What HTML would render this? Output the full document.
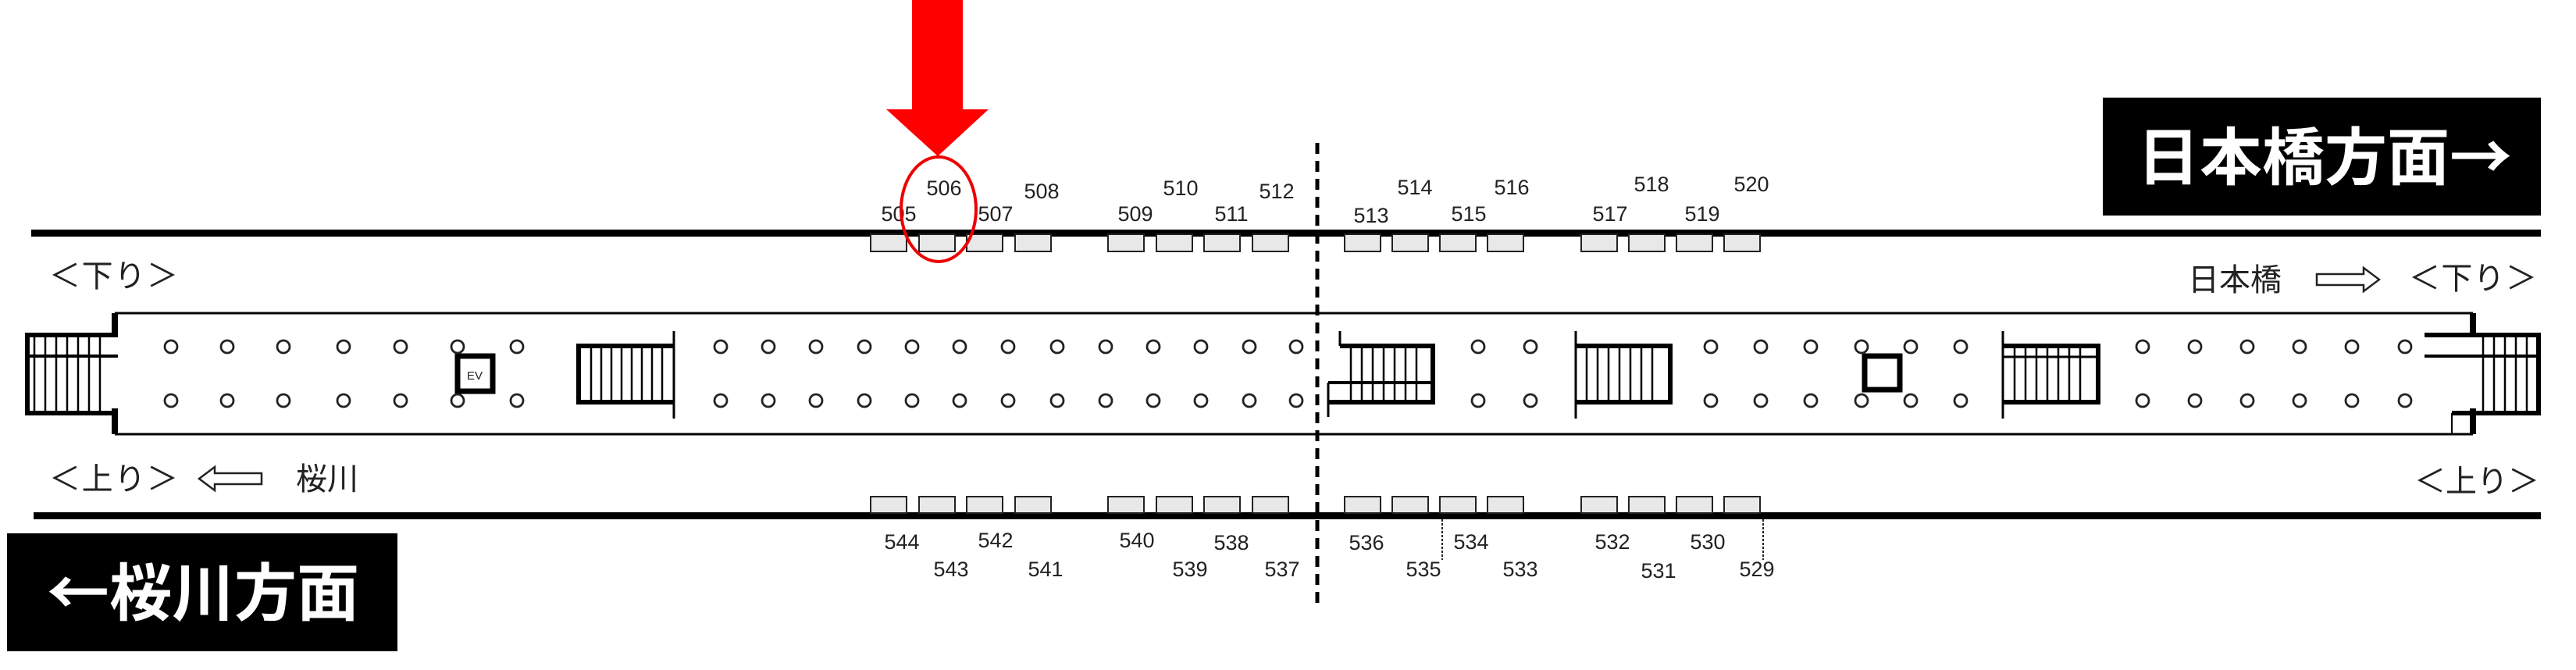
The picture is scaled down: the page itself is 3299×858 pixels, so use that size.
<!DOCTYPE html>
<html><head><meta charset="utf-8"><style>
html,body{margin:0;padding:0;background:#fff;}
svg{display:block;}
.n{font-family:"Liberation Sans Narrow","Liberation Sans",sans-serif;font-size:27px;fill:#222;text-anchor:middle;}
.j{font-family:"Noto Sans CJK JP","Liberation Sans",sans-serif;font-size:40px;fill:#222;}
.b{font-family:"Noto Sans CJK JP","Liberation Sans",sans-serif;font-size:80px;fill:#fff;font-weight:bold;}
</style></head><body>
<svg width="3299" height="858" viewBox="0 0 3299 858" xmlns="http://www.w3.org/2000/svg">
<rect x="40" y="294" width="3214" height="9" fill="#000"/>
<rect x="43" y="656" width="3211" height="9" fill="#000"/>
<rect x="2693" y="125" width="561" height="151" fill="#000"/>
<text class="b" x="2737" y="230" textLength="480">日本橋方面→</text>
<rect x="9" y="683" width="500" height="151" fill="#000"/>
<text class="b" x="60" y="788" textLength="400">←桜川方面</text>
<g fill="none" stroke="#000">
<line x1="147" y1="401" x2="3167" y2="401" stroke-width="3"/>
<line x1="147" y1="556" x2="3167" y2="556" stroke-width="3"/>
<line x1="147" y1="401" x2="147" y2="432" stroke-width="8"/>
<line x1="147" y1="523" x2="147" y2="556" stroke-width="8"/>
<line x1="3167" y1="401" x2="3167" y2="432" stroke-width="8"/>
<line x1="3167" y1="523" x2="3167" y2="556" stroke-width="8"/>
</g>
<g stroke="#000" fill="none">
<path d="M151 429 H35 V529 H151" stroke-width="6"/>
<line x1="32" y1="456" x2="151" y2="456" stroke-width="4"/>
<g stroke-width="2.5"><line x1="44" y1="432" x2="44" y2="526"/><line x1="58" y1="432" x2="58" y2="526"/><line x1="72" y1="432" x2="72" y2="526"/><line x1="86" y1="432" x2="86" y2="526"/><line x1="100" y1="432" x2="100" y2="526"/><line x1="114" y1="432" x2="114" y2="526"/><line x1="128" y1="432" x2="128" y2="526"/></g>
</g>
<g stroke="#000" fill="none">
<path d="M3105 429 H3251 V529 H3140" stroke-width="6"/>
<line x1="3105" y1="456" x2="3254" y2="456" stroke-width="4"/>
<line x1="3140" y1="529" x2="3140" y2="556" stroke-width="2"/>
<g stroke-width="2.5"><line x1="3180" y1="432" x2="3180" y2="526"/><line x1="3194" y1="432" x2="3194" y2="526"/><line x1="3208" y1="432" x2="3208" y2="526"/><line x1="3222" y1="432" x2="3222" y2="526"/><line x1="3236" y1="432" x2="3236" y2="526"/></g>
</g>
<g stroke="#000" fill="none">
<path d="M863 443 H741 V515 H863" stroke-width="6"/>
<line x1="863" y1="424" x2="863" y2="536" stroke-width="3"/>
<g stroke-width="2.5"><line x1="757" y1="446" x2="757" y2="512"/><line x1="770" y1="446" x2="770" y2="512"/><line x1="783" y1="446" x2="783" y2="512"/><line x1="796" y1="446" x2="796" y2="512"/><line x1="809" y1="446" x2="809" y2="512"/><line x1="822" y1="446" x2="822" y2="512"/><line x1="835" y1="446" x2="835" y2="512"/><line x1="848" y1="446" x2="848" y2="512"/></g>
<path d="M1716 443 H1835 V515 H1701" stroke-width="6"/>
<line x1="1716" y1="424" x2="1716" y2="443" stroke-width="3"/>
<line x1="1701" y1="490" x2="1838" y2="490" stroke-width="4"/>
<line x1="1701" y1="490" x2="1701" y2="534" stroke-width="3"/>
<g stroke-width="2.5"><line x1="1730" y1="446" x2="1730" y2="512"/><line x1="1744" y1="446" x2="1744" y2="512"/><line x1="1758" y1="446" x2="1758" y2="512"/><line x1="1772" y1="446" x2="1772" y2="512"/><line x1="1786" y1="446" x2="1786" y2="512"/><line x1="1800" y1="446" x2="1800" y2="512"/><line x1="1814" y1="446" x2="1814" y2="512"/></g>
<path d="M2018 443 H2139 V515 H2018" stroke-width="6"/>
<line x1="2018" y1="424" x2="2018" y2="536" stroke-width="3"/>
<g stroke-width="2.5"><line x1="2032" y1="446" x2="2032" y2="512"/><line x1="2046" y1="446" x2="2046" y2="512"/><line x1="2060" y1="446" x2="2060" y2="512"/><line x1="2074" y1="446" x2="2074" y2="512"/><line x1="2088" y1="446" x2="2088" y2="512"/><line x1="2102" y1="446" x2="2102" y2="512"/><line x1="2116" y1="446" x2="2116" y2="512"/></g>
<path d="M2565 443 H2687 V515 H2565" stroke-width="6"/>
<line x1="2565" y1="424" x2="2565" y2="536" stroke-width="3"/>
<line x1="2565" y1="457" x2="2690" y2="457" stroke-width="3"/>
<g stroke-width="2.5"><line x1="2580" y1="446" x2="2580" y2="512"/><line x1="2594" y1="446" x2="2594" y2="512"/><line x1="2608" y1="446" x2="2608" y2="512"/><line x1="2622" y1="446" x2="2622" y2="512"/><line x1="2636" y1="446" x2="2636" y2="512"/><line x1="2650" y1="446" x2="2650" y2="512"/><line x1="2664" y1="446" x2="2664" y2="512"/></g>
</g>
<rect x="586" y="456" width="45" height="45" fill="#fff" stroke="#000" stroke-width="7"/>
<text x="608" y="486" font-family="Liberation Sans,sans-serif" font-size="15" text-anchor="middle" fill="#222">EV</text>
<rect x="2388" y="456" width="45" height="43" fill="#fff" stroke="#000" stroke-width="7"/>
<g fill="none" stroke="#222" stroke-width="2.8">
<circle cx="219" cy="444" r="8"/><circle cx="291" cy="444" r="8"/><circle cx="363" cy="444" r="8"/><circle cx="440" cy="444" r="8"/><circle cx="513" cy="444" r="8"/><circle cx="586" cy="444" r="8"/><circle cx="662" cy="444" r="8"/>
<circle cx="923" cy="444" r="8"/><circle cx="984" cy="444" r="8"/><circle cx="1045" cy="444" r="8"/><circle cx="1107" cy="444" r="8"/><circle cx="1168" cy="444" r="8"/><circle cx="1229" cy="444" r="8"/><circle cx="1291" cy="444" r="8"/><circle cx="1354" cy="444" r="8"/><circle cx="1416" cy="444" r="8"/><circle cx="1477" cy="444" r="8"/><circle cx="1538" cy="444" r="8"/><circle cx="1600" cy="444" r="8"/><circle cx="1660" cy="444" r="8"/>
<circle cx="1893" cy="444" r="8"/><circle cx="1960" cy="444" r="8"/><circle cx="2191" cy="444" r="8"/><circle cx="2255" cy="444" r="8"/><circle cx="2319" cy="444" r="8"/><circle cx="2384" cy="444" r="8"/><circle cx="2447" cy="444" r="8"/><circle cx="2511" cy="444" r="8"/>
<circle cx="2744" cy="444" r="8"/><circle cx="2811" cy="444" r="8"/><circle cx="2878" cy="444" r="8"/><circle cx="2945" cy="444" r="8"/><circle cx="3012" cy="444" r="8"/><circle cx="3080" cy="444" r="8"/>
<circle cx="219" cy="513" r="8"/><circle cx="291" cy="513" r="8"/><circle cx="363" cy="513" r="8"/><circle cx="440" cy="513" r="8"/><circle cx="513" cy="513" r="8"/><circle cx="586" cy="513" r="8"/><circle cx="662" cy="513" r="8"/>
<circle cx="923" cy="513" r="8"/><circle cx="984" cy="513" r="8"/><circle cx="1045" cy="513" r="8"/><circle cx="1107" cy="513" r="8"/><circle cx="1168" cy="513" r="8"/><circle cx="1229" cy="513" r="8"/><circle cx="1291" cy="513" r="8"/><circle cx="1354" cy="513" r="8"/><circle cx="1416" cy="513" r="8"/><circle cx="1477" cy="513" r="8"/><circle cx="1538" cy="513" r="8"/><circle cx="1600" cy="513" r="8"/><circle cx="1660" cy="513" r="8"/>
<circle cx="1893" cy="513" r="8"/><circle cx="1960" cy="513" r="8"/><circle cx="2191" cy="513" r="8"/><circle cx="2255" cy="513" r="8"/><circle cx="2319" cy="513" r="8"/><circle cx="2384" cy="513" r="8"/><circle cx="2447" cy="513" r="8"/><circle cx="2511" cy="513" r="8"/>
<circle cx="2744" cy="513" r="8"/><circle cx="2811" cy="513" r="8"/><circle cx="2878" cy="513" r="8"/><circle cx="2945" cy="513" r="8"/><circle cx="3012" cy="513" r="8"/><circle cx="3080" cy="513" r="8"/>
</g>
<g fill="#e8e8e8" stroke="#222" stroke-width="2">
<rect x="1115" y="300" width="46" height="22"/><rect x="1177" y="300" width="46" height="22"/><rect x="1238" y="300" width="46" height="22"/><rect x="1300" y="300" width="46" height="22"/>
<rect x="1419" y="300" width="46" height="22"/><rect x="1481" y="300" width="46" height="22"/><rect x="1542" y="300" width="46" height="22"/><rect x="1604" y="300" width="46" height="22"/>
<rect x="1722" y="300" width="46" height="22"/><rect x="1783" y="300" width="46" height="22"/><rect x="1844" y="300" width="46" height="22"/><rect x="1905" y="300" width="46" height="22"/>
<rect x="2025" y="300" width="46" height="22"/><rect x="2086" y="300" width="46" height="22"/><rect x="2147" y="300" width="46" height="22"/><rect x="2208" y="300" width="46" height="22"/>
<rect x="1115" y="636" width="46" height="21"/><rect x="1177" y="636" width="46" height="21"/><rect x="1238" y="636" width="46" height="21"/><rect x="1300" y="636" width="46" height="21"/>
<rect x="1419" y="636" width="46" height="21"/><rect x="1481" y="636" width="46" height="21"/><rect x="1542" y="636" width="46" height="21"/><rect x="1604" y="636" width="46" height="21"/>
<rect x="1722" y="636" width="46" height="21"/><rect x="1783" y="636" width="46" height="21"/><rect x="1844" y="636" width="46" height="21"/><rect x="1905" y="636" width="46" height="21"/>
<rect x="2025" y="636" width="46" height="21"/><rect x="2086" y="636" width="46" height="21"/><rect x="2147" y="636" width="46" height="21"/><rect x="2208" y="636" width="46" height="21"/>
</g>
<line x1="1847" y1="665" x2="1847" y2="717" stroke="#222" stroke-width="2" stroke-dasharray="3,2"/>
<line x1="2258" y1="665" x2="2258" y2="717" stroke="#222" stroke-width="2" stroke-dasharray="3,2"/>
<line x1="1687" y1="183" x2="1687" y2="774" stroke="#000" stroke-width="5" stroke-dasharray="14,9"/>
<g class="n">
<text x="1209" y="250">506</text><text x="1151" y="283">505</text><text x="1275" y="283">507</text><text x="1334" y="254">508</text>
<text x="1454" y="283">509</text><text x="1512" y="250">510</text><text x="1577" y="283">511</text><text x="1635" y="254">512</text>
<text x="1756" y="285">513</text><text x="1812" y="249">514</text><text x="1881" y="283">515</text><text x="1936" y="249">516</text>
<text x="2062" y="283">517</text><text x="2115" y="245">518</text><text x="2180" y="283">519</text><text x="2243" y="245">520</text>
<text x="1155" y="703">544</text><text x="1275" y="701">542</text><text x="1218" y="738">543</text><text x="1339" y="738">541</text>
<text x="1456" y="701">540</text><text x="1577" y="704">538</text><text x="1524" y="738">539</text><text x="1642" y="738">537</text>
<text x="1750" y="704">536</text><text x="1884" y="703">534</text><text x="1823" y="738">535</text><text x="1947" y="738">533</text>
<text x="2065" y="703">532</text><text x="2124" y="740">531</text><text x="2187" y="703">530</text><text x="2250" y="738">529</text>
</g>
<text class="j" x="63" y="367" textLength="165">＜下り＞</text>
<text class="j" x="63" y="627" textLength="165">＜上り＞</text>
<path d="M255 613 L275 598 V606 H335 V620 H275 V628 Z" fill="#fff" stroke="#222" stroke-width="2.5"/>
<text class="j" x="379" y="627">桜川</text>
<text class="j" x="2802" y="372">日本橋</text>
<path d="M2967 351 H3027 V343 L3047 358 L3027 373 V365 H2967 Z" fill="#fff" stroke="#222" stroke-width="2.5"/>
<text class="j" x="3085" y="370" textLength="164">＜下り＞</text>
<text class="j" x="3092" y="630" textLength="160">＜上り＞</text>
<path d="M1168 0 H1233 V140 H1266 L1201 200 L1135 140 H1168 Z" fill="#f00"/>
<ellipse cx="1202" cy="268" rx="48" ry="67" fill="none" stroke="#e00" stroke-width="4"/>
</svg>
</body></html>
